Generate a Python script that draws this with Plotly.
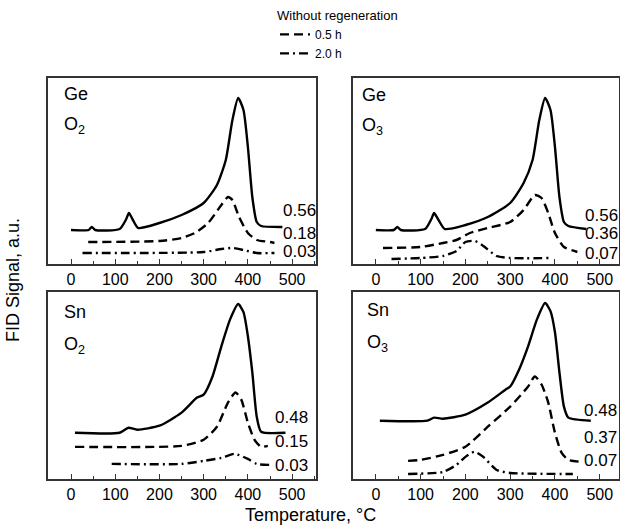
import plotly.graph_objects as go
from plotly.subplots import make_subplots

# ---------------- data (temperature in °C, FID signal in arbitrary units) ----------------
# Ge / O2
ge_o2_solid_t = [0, 40, 47, 55, 110, 125, 131, 140, 152, 200, 250, 300, 330, 350, 365, 378, 390, 400, 410, 420, 430, 478]
ge_o2_solid_y = [34, 34, 37, 34, 35, 45, 51, 44, 36, 41, 49, 61, 79, 104, 144, 166, 154, 117, 67, 42, 38, 37]
ge_o2_dash_t = [39, 200, 250, 280, 310, 340, 355, 365, 380, 400, 420, 450, 460]
ge_o2_dash_y = [22, 23, 26, 31, 41, 59, 67, 64, 47, 31, 24, 22, 21]
ge_o2_dd_t = [26, 300, 340, 365, 390, 420, 460]
ge_o2_dd_y = [11, 12, 15, 16, 14, 11, 11]

# Ge / O3
ge_o3_solid_t = [0, 40, 48, 56, 110, 124, 130, 140, 154, 200, 250, 300, 330, 350, 365, 378, 390, 400, 410, 420, 430, 470]
ge_o3_solid_y = [34, 34, 37, 34, 35, 45, 51, 44, 35, 39, 47, 61, 81, 104, 144, 166, 154, 117, 67, 42, 38, 35]
ge_o3_dash_t = [16, 100, 150, 180, 210, 250, 300, 330, 355, 370, 385, 400, 420, 450]
ge_o3_dash_y = [16, 17, 21, 24, 31, 36, 42, 54, 69, 66, 51, 31, 17, 12]
ge_o3_dd_t = [35, 100, 150, 180, 200, 222, 240, 270, 300, 390]
ge_o3_dd_y = [5, 6, 8, 13, 22, 23, 18, 8, 6, 6]

# Sn / O2
sn_o2_solid_t = [9, 110, 130, 150, 200, 250, 285, 300, 320, 340, 360, 378, 390, 400, 410, 420, 430, 485]
sn_o2_solid_y = [46, 46, 51, 49, 53, 66, 81, 84, 102, 132, 159, 174, 166, 142, 106, 62, 47, 46]
sn_o2_dash_t = [9, 250, 300, 330, 355, 372, 385, 400, 415, 430, 445]
sn_o2_dash_y = [32, 33, 39, 52, 76, 86, 79, 56, 39, 32, 33]
sn_o2_dd_t = [92, 250, 300, 340, 370, 400, 420, 450]
sn_o2_dd_y = [15, 15, 18, 21, 25, 20, 15, 14]

# Sn / O3
sn_o3_solid_t = [9, 115, 130, 150, 200, 250, 290, 300, 320, 340, 360, 378, 390, 400, 410, 420, 430, 480]
sn_o3_solid_y = [58, 58, 61, 60, 64, 76, 89, 92, 109, 132, 159, 175, 167, 146, 106, 72, 61, 58]
sn_o3_dash_t = [72, 100, 150, 200, 250, 300, 340, 355, 370, 385, 400, 415, 430, 460]
sn_o3_dash_y = [18, 19, 24, 32, 52, 72, 92, 102, 94, 76, 46, 26, 19, 17]
sn_o3_dd_t = [72, 150, 180, 200, 220, 240, 270, 300, 440]
sn_o3_dd_y = [5, 7, 14, 22, 27, 22, 9, 6, 5]

# labels
panel_metal = ["Ge", "Ge", "Sn", "Sn"]
panel_oxid = ["O<sub>2</sub>", "O<sub>3</sub>", "O<sub>2</sub>", "O<sub>3</sub>"]
value_labels = [["0.56", "0.18", "0.03"], ["0.56", "0.36", "0.07"],
                ["0.48", "0.15", "0.03"], ["0.48", "0.37", "0.07"]]
value_label_y = [[54, 31, 13], [49, 31, 11], [61, 37, 13], [68, 41, 18]]
value_label_t = [474, 462, 457, 460]
legend_names = ["0.5 h", "2.0 h"]
tick_vals = [0, 100, 200, 300, 400, 500]

panels = [
    (ge_o2_solid_t, ge_o2_solid_y, ge_o2_dash_t, ge_o2_dash_y, ge_o2_dd_t, ge_o2_dd_y),
    (ge_o3_solid_t, ge_o3_solid_y, ge_o3_dash_t, ge_o3_dash_y, ge_o3_dd_t, ge_o3_dd_y),
    (sn_o2_solid_t, sn_o2_solid_y, sn_o2_dash_t, sn_o2_dash_y, sn_o2_dd_t, sn_o2_dd_y),
    (sn_o3_solid_t, sn_o3_solid_y, sn_o3_dash_t, sn_o3_dash_y, sn_o3_dd_t, sn_o3_dd_y),
]

FONT = "Liberation Sans, Arial, sans-serif"
W, H = 620, 528

fig = make_subplots(rows=2, cols=2)
positions = [(1, 1), (1, 2), (2, 1), (2, 2)]
line_w = 2.4
for i, (p, (r, c)) in enumerate(zip(panels, positions)):
    st, sy, dt, dy, ddt, ddy = p
    fig.add_trace(go.Scatter(x=st, y=sy, mode="lines", showlegend=False,
                             line=dict(color="black", width=line_w, shape="spline", smoothing=0.6)), row=r, col=c)
    fig.add_trace(go.Scatter(x=dt, y=dy, mode="lines", name=legend_names[0], showlegend=(i == 0),
                             line=dict(color="black", width=line_w, dash="9px,5px", shape="spline", smoothing=0.6)),
                  row=r, col=c)
    fig.add_trace(go.Scatter(x=ddt, y=ddy, mode="lines", name=legend_names[1], showlegend=(i == 0),
                             line=dict(color="black", width=line_w, dash="9px,4px,2px,4px", shape="spline", smoothing=0.6)),
                  row=r, col=c)

# panel domains (pixel based)
def xd(a, b):
    return [a / W, b / W]

def yd(top, bot):
    return [1 - bot / H, 1 - top / H]

doms = {
    1: (xd(48, 316), yd(78, 264), [-52, 554]),
    2: (xd(353, 619), yd(78, 264), [-51, 543]),
    3: (xd(48, 316), yd(292, 479), [-52, 554]),
    4: (xd(353, 619), yd(292, 479), [-51, 543]),
}
for k, (xdom, ydom, xr) in doms.items():
    sfx = "" if k == 1 else str(k)
    fig.layout["xaxis" + sfx].update(
        domain=xdom, range=xr, tickvals=tick_vals, ticks="inside", ticklen=5, tickwidth=1.2,
        tickcolor="#333", showline=True, linecolor="#333", linewidth=1.6, mirror=True,
        showgrid=False, zeroline=False, tickfont=dict(family=FONT, size=16, color="black"),
        minor=dict(ticks="inside", ticklen=3, tickwidth=1.2, dtick=50, tickcolor="#333", showgrid=False))
    fig.layout["yaxis" + sfx].update(
        domain=ydom, range=[0, 186], showticklabels=False, ticks="", showline=True,
        linecolor="#333", linewidth=1.6, mirror=True, showgrid=False, zeroline=False)

annotations = []
name_pos = [(62, 94, 125), (360, 95, 127), (62, 312, 345), (365, 310, 343)]
for i in range(4):
    x0, ym, yo = name_pos[i]
    annotations.append(dict(xref="paper", yref="paper", x=x0 / W, y=1 - ym / H, xanchor="left",
                            yanchor="middle", text=panel_metal[i], showarrow=False,
                            font=dict(family=FONT, size=18, color="black")))
    annotations.append(dict(xref="paper", yref="paper", x=x0 / W, y=1 - yo / H, xanchor="left",
                            yanchor="middle", text=panel_oxid[i], showarrow=False,
                            font=dict(family=FONT, size=18, color="black")))
    sfx = "" if i == 0 else str(i + 1)
    for lab, ly in zip(value_labels[i], value_label_y[i]):
        annotations.append(dict(xref="x" + sfx, yref="y" + sfx, x=value_label_t[i], y=ly,
                                xanchor="left", yanchor="middle", text=lab, showarrow=False,
                                font=dict(family=FONT, size=17, color="black")))

annotations.append(dict(xref="paper", yref="paper", x=310 / W, y=1 - 515 / H, xanchor="center",
                        yanchor="middle", text="Temperature, °C", showarrow=False,
                        font=dict(family=FONT, size=18, color="black")))
annotations.append(dict(xref="paper", yref="paper", x=13 / W, y=1 - 280 / H, xanchor="center",
                        yanchor="middle", text="FID Signal, a.u.", showarrow=False, textangle=-90,
                        font=dict(family=FONT, size=18, color="black")))

fig.update_layout(
    width=W, height=H, margin=dict(l=0, r=0, t=0, b=0),
    paper_bgcolor="white", plot_bgcolor="white",
    annotations=annotations,
    legend=dict(x=275 / W, y=1 - 3 / H, xanchor="left", yanchor="top",
                title=dict(text="Without regeneration", font=dict(family=FONT, size=13, color="black"), side="top"),
                font=dict(family=FONT, size=12, color="black"), bgcolor="rgba(0,0,0,0)",
                tracegroupgap=0, itemwidth=30),
)

fig.write_html("out.html", config={"displayModeBar": False},
               post_script="document.body.style.margin='0';document.body.style.overflow='hidden';")
